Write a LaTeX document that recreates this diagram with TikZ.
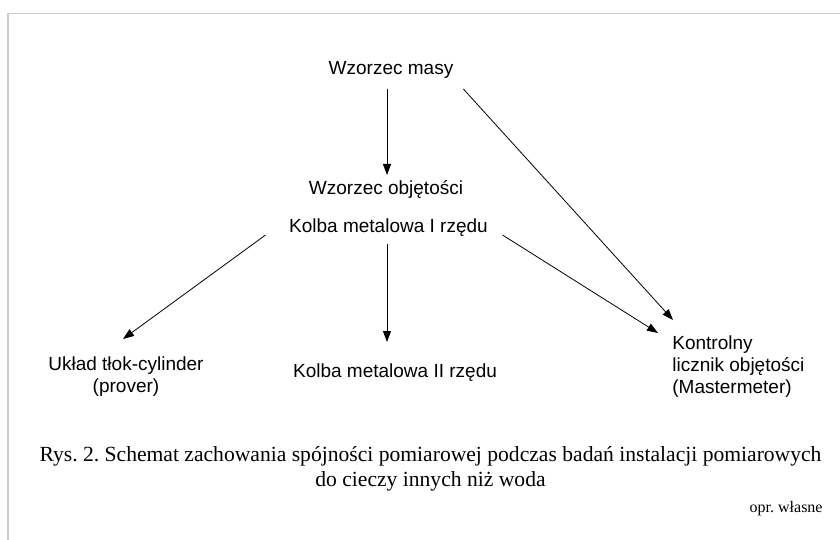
\documentclass[tikz,border=0pt]{standalone}
\usepackage{fontspec}
\setmainfont{Liberation Serif}
\newfontfamily\labelfont{Liberation Sans}
\usetikzlibrary{arrows.meta}
\frenchspacing
\tikzset{lbl/.style={inner sep=3pt,font=\labelfont\fontsize{19}{22}\selectfont}}
\tikzset{capt/.style={inner sep=0pt,font=\fontsize{21.6}{25}\selectfont}}
\tikzset{>={Triangle[length=11pt,width=8pt]}}

\begin{document}
\begin{tikzpicture}[x=1pt, y=-1pt, line width=0.8pt]
        \useasboundingbox (0,0) rectangle (840,540);
        \draw[line width=1.5pt, black!20] (8,540) -- (8,13.5) -- (840,13.5);
        % etykiety
        \node[lbl, anchor=base] (masa) at (391,75) {Wzorzec masy};
        \node[lbl, anchor=base] (objetosc) at (386,194) {Wzorzec objętości};
        \node[lbl, anchor=base] (kolba1) at (388.5,232) {Kolba metalowa I rzędu};
        \node[lbl, anchor=north, align=center] (tlok) at (126,353) {Układ tłok-cylinder\\(prover)};
        \node[lbl, anchor=base] (kolba2) at (395,377) {Kolba metalowa II rzędu};
        \node[lbl, anchor=north west, align=left] (licznik) at (669,332) {Kontrolny\\licznik objętości\\(Mastermeter)};
        % strzalki
        \draw[->] ([xshift=-4pt,yshift=-14pt]masa.base) -- ([xshift=1pt,yshift=19pt]objetosc.base);
        \draw[->] ([xshift=6.7pt,yshift=-14pt]masa.base east) -- ([xshift=4pt,yshift=12pt]licznik.north west);
        \draw[->] ([xshift=-20.3pt,yshift=-3pt]kolba1.base west) -- ([xshift=-3pt,yshift=14pt]tlok.north);
        \draw[->] ([xshift=-1.5pt,yshift=-12pt]kolba1.base) -- ([xshift=-8pt,yshift=35pt]kolba2.base);
        \draw[->] ([xshift=11.3pt,yshift=-3pt]kolba1.base east) -- ([xshift=-11pt,yshift=-1pt]licznik.north west);
        % podpis
        \node[capt, anchor=north, align=center] (podpis) at (430.5,446.2) {Rys. 2. Schemat zachowania spójności pomiarowej podczas badań instalacji pomiarowych\\do cieczy innych niż woda};
        \node[inner sep=0pt, anchor=base east, font=\fontsize{16}{19}\selectfont] (zrodlo) at (823,512) {opr. własne};
\end{tikzpicture}
\end{document}
